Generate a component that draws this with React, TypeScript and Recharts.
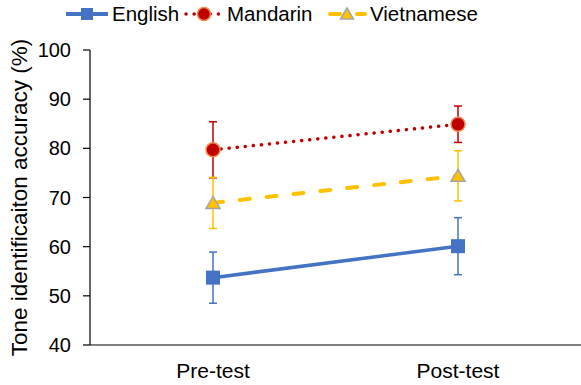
import React from 'react';
import { LineChart, Line, XAxis, YAxis, ErrorBar } from 'recharts';

const categories = ['Pre-test', 'Post-test'];
const english = [53.7, 60.1];
const englishErr = [5.2, 5.8];
const mandarin = [79.7, 84.9];
const mandarinErr = [5.7, 3.7];
const vietnamese = [68.9, 74.4];
const vietnameseErr = [5.2, 5.1];
const yTicks = [40, 50, 60, 70, 80, 90, 100];
const boundaryTicks = [0, 1, 2];
const seriesNames = ['English', 'Mandarin', 'Vietnamese'];
const yLabel = 'Tone identificaiton accuracy (%)';

const BLUE = '#4472C4';
const RED = '#C00000';
const YELLOW = '#FFC000';
const FONT = '"Liberation Sans", Arial, sans-serif';

const data = categories.map((c, i) => ({
  phase: c,
  en: english[i],
  enErr: englishErr[i],
  zh: mandarin[i],
  zhErr: mandarinErr[i],
  vi: vietnamese[i],
  viErr: vietnameseErr[i],
}));

const SquareDot = (p: any) => {
  const { cx, cy } = p;
  if (cx == null || cy == null) return null;
  return <rect key={`sq-${p.index}`} x={cx - 7} y={cy - 7} width={14} height={14} fill={BLUE} />;
};

const CircleDot = (p: any) => {
  const { cx, cy } = p;
  if (cx == null || cy == null) return null;
  return <circle key={`ci-${p.index}`} cx={cx} cy={cy} r={7} fill={RED} stroke="#F08A4B" strokeWidth={1.5} />;
};

const TriangleDot = (p: any) => {
  const { cx, cy } = p;
  if (cx == null || cy == null) return null;
  const pts = `${cx},${cy - 6.5} ${cx + 7},${cy + 5.5} ${cx - 7},${cy + 5.5}`;
  return <polygon key={`tr-${p.index}`} points={pts} fill={YELLOW} stroke="#A5A5A5" strokeWidth={1.5} strokeLinejoin="miter" />;
};

const YLabel = (props: any) => {
  const vb = props.viewBox || { x: 0, y: 50, width: 90, height: 295 };
  const x = vb.x + 19;
  const y = vb.y + vb.height / 2;
  return (
    <text
      x={x}
      y={y}
      transform={`rotate(-90, ${x}, ${y})`}
      textAnchor="middle"
      dominantBaseline="central"
      fontSize={22.5}
      fill="#000"
      fontFamily={FONT}
    >
      {yLabel}
    </text>
  );
};

const LegendSvg = () => (
  <svg width={581} height={30} style={{ position: 'absolute', left: 0, top: 0 }}>
    <g fontFamily={FONT} fontSize={20.5} fill="#000">
      <line x1={66} y1={14} x2={108} y2={14} stroke={BLUE} strokeWidth={4} />
      <rect x={81} y={8} width={12} height={12} fill={BLUE} />
      <text x={112} y={21}>{seriesNames[0]}</text>

      <line x1={186} y1={14} x2={219} y2={14} stroke={RED} strokeWidth={3.5} strokeDasharray="0.1 8" strokeLinecap="round" />
      <circle cx={204} cy={14} r={6.5} fill={RED} stroke="#F08A4B" strokeWidth={1.5} />
      <text x={227} y={21}>{seriesNames[1]}</text>

      <line x1={330} y1={14} x2={365} y2={14} stroke={YELLOW} strokeWidth={4} strokeDasharray="10 17" strokeLinecap="round" />
      <polygon points="347,8 353.5,19 340.5,19" fill={YELLOW} stroke="#A5A5A5" strokeWidth={1.5} />
      <text x={370} y={21}>{seriesNames[2]}</text>
    </g>
  </svg>
);

export default function App() {
  return (
    <div style={{ position: 'absolute', left: 0, top: 0, width: 581, height: 385, background: '#fff' }}>
      <LineChart
        width={581}
        height={385}
        data={data}
        margin={{ top: 50, right: 0, bottom: 0, left: 0 }}
        style={{ fontFamily: FONT }}
      >
        <XAxis
          xAxisId="b"
          dataKey="phase"
          type="category"
          padding={{ left: 123, right: 123 }}
          axisLine={false}
          tickLine={false}
          tickSize={0}
          tickMargin={17}
          height={39}
          tick={{ fill: '#000', fontSize: 21, fontFamily: FONT }}
        />
        <XAxis
          xAxisId="a"
          type="number"
          domain={[0, 2]}
          ticks={boundaryTicks}
          allowDataOverflow
          tick={false}
          tickSize={7}
          height={1}
          stroke="#000"
          axisLine={{ stroke: '#000', strokeWidth: 1.2 }}
          tickLine={{ stroke: '#000', strokeWidth: 1.2 }}
        />
        <YAxis
          width={90}
          domain={[40, 100]}
          ticks={yTicks}
          interval={0}
          tickSize={7}
          tickMargin={12}
          axisLine={{ stroke: '#000', strokeWidth: 1.2 }}
          tickLine={{ stroke: '#000', strokeWidth: 1.2 }}
          tick={{ fill: '#000', fontSize: 20, fontFamily: FONT }}
          label={<YLabel />}
        />
        <Line
          xAxisId="b"
          dataKey="en"
          name={seriesNames[0]}
          stroke={BLUE}
          strokeWidth={3.5}
          dot={SquareDot}
          activeDot={false}
          isAnimationActive={false}
        >
          <ErrorBar dataKey="enErr" width={4} stroke={BLUE} strokeWidth={1.5} direction="y" isAnimationActive={false} />
        </Line>
        <Line
          xAxisId="b"
          dataKey="zh"
          name={seriesNames[1]}
          stroke={RED}
          strokeWidth={3.5}
          strokeDasharray="0.1 8"
          strokeLinecap="round"
          dot={CircleDot}
          activeDot={false}
          isAnimationActive={false}
        >
          <ErrorBar dataKey="zhErr" width={4} stroke={RED} strokeWidth={1.5} direction="y" isAnimationActive={false} />
        </Line>
        <Line
          xAxisId="b"
          dataKey="vi"
          name={seriesNames[2]}
          stroke={YELLOW}
          strokeWidth={4}
          strokeDasharray="10 17"
          strokeLinecap="round"
          dot={TriangleDot}
          activeDot={false}
          isAnimationActive={false}
        >
          <ErrorBar dataKey="viErr" width={4} stroke={YELLOW} strokeWidth={1.5} direction="y" isAnimationActive={false} />
        </Line>
      </LineChart>
      <LegendSvg />
    </div>
  );
}
